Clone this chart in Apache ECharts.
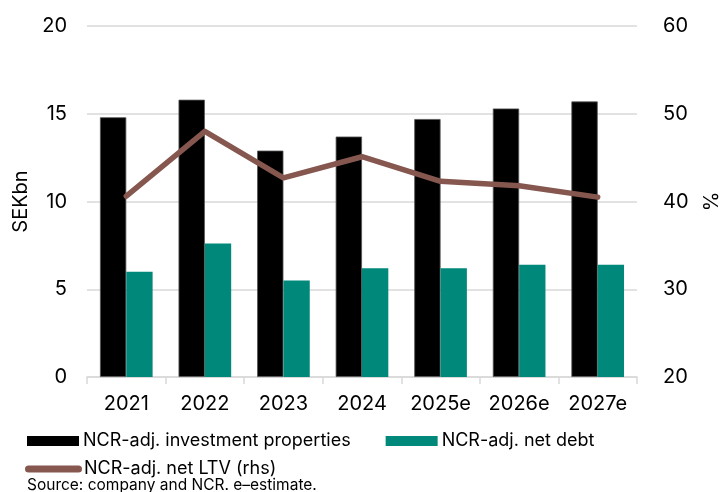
<!DOCTYPE html>
<html>
<head>
<meta charset="utf-8">
<script src="https://cdn.jsdelivr.net/npm/echarts@6/dist/echarts.min.js"></script>
<style>
  html, body { margin: 0; padding: 0; background: #fff; }
  #chart { width: 722px; height: 492px; }
</style>
</head>
<body>
<div id="chart"></div>
<script>
// Years (e = estimate)
const years = ['2021', '2022', '2023', '2024', '2025e', '2026e', '2027e'];
// NCR-adjusted investment properties, SEKbn
const investmentProperties = [14.8, 15.8, 12.9, 13.7, 14.7, 15.3, 15.7];
// NCR-adjusted net debt, SEKbn
const netDebt = [6.0, 7.6, 5.5, 6.2, 6.2, 6.4, 6.4];
// NCR-adjusted net loan-to-value, % (right axis)
const netLtv = [40.6, 48.0, 42.7, 45.1, 42.3, 41.8, 40.5];

const FONT = 'Inter, "Noto Sans", sans-serif';
const GRID = '#d9d9d9';
const LTV_COLOR = '#85574f';

const chart = echarts.init(document.getElementById('chart'), null, { renderer: 'canvas' });

chart.setOption({
  animation: false,
  textStyle: { fontFamily: FONT, color: '#000' },
  grid: { left: 87, right: 85, top: 26, bottom: 115, outerBoundsMode: 'none', containLabel: false },
  legend: [
    {
      left: 22, top: 427,
      itemWidth: 52, itemHeight: 10, itemGap: 35,
      icon: 'rect',
      itemStyle: { borderWidth: 0 },
      textStyle: { fontFamily: FONT, fontSize: 18, color: '#000', padding: [0, 0, 0, -1] },
      data: ['NCR-adj. investment properties', 'NCR-adj. net debt']
    },
    {
      left: 20, top: 455,
      itemWidth: 57, itemHeight: 7,
      textStyle: { fontFamily: FONT, fontSize: 18, color: '#000', padding: [0, 0, 0, -3] },
      data: [{
        name: 'NCR-adj. net LTV (rhs)',
        icon: 'path://M3.5,0 L53.5,0 A3.5,3.5 0 0 1 53.5,7 L3.5,7 A3.5,3.5 0 0 1 3.5,0 Z',
        itemStyle: { color: LTV_COLOR, borderWidth: 0 }
      }]
    }
  ],
  graphic: [
    {
      type: 'text', left: 27, top: 477,
      style: { text: 'Source: company and NCR. e\u2013estimate.', font: '15.5px ' + FONT, fill: '#000' }
    }
  ],
  xAxis: {
    type: 'category',
    data: years,
    axisLine: { lineStyle: { color: GRID, width: 1.5 } },
    axisTick: { show: true, interval: 0, length: 7, lineStyle: { color: GRID, width: 1.5 } },
    axisLabel: { interval: 0, hideOverlap: false, fontSize: 20, color: '#000', margin: 17 }
  },
  yAxis: [
    {
      type: 'value', min: 0, max: 20, interval: 5,
      name: 'SEKbn', nameLocation: 'middle', nameGap: 56, nameRotate: 90,
      nameTextStyle: { fontSize: 20, color: '#000' },
      axisLine: { show: false }, axisTick: { show: false },
      axisLabel: { fontSize: 20, color: '#000', margin: 20 },
      splitLine: { lineStyle: { color: GRID, width: 1.5 } }
    },
    {
      type: 'value', min: 20, max: 60, interval: 10,
      name: '%', nameLocation: 'middle', nameGap: 65, nameRotate: 90,
      nameTextStyle: { fontSize: 20, color: '#000' },
      axisLine: { show: false }, axisTick: { show: false },
      axisLabel: { fontSize: 20, color: '#000', margin: 26 },
      splitLine: { show: false }
    }
  ],
  series: [
    {
      name: 'NCR-adj. investment properties',
      type: 'bar',
      data: investmentProperties,
      barGap: '0%', barCategoryGap: '33%',
      itemStyle: { color: '#000', borderColor: '#555', borderWidth: 0.8 }
    },
    {
      name: 'NCR-adj. net debt',
      type: 'bar',
      data: netDebt,
      itemStyle: { color: '#00897a' }
    },
    {
      name: 'NCR-adj. net LTV (rhs)',
      type: 'line',
      yAxisIndex: 1,
      data: netLtv,
      symbol: 'none',
      lineStyle: { color: LTV_COLOR, width: 5.5, cap: 'round', join: 'round' },
      itemStyle: { color: LTV_COLOR },
      z: 5
    }
  ]
});
</script>
</body>
</html>
